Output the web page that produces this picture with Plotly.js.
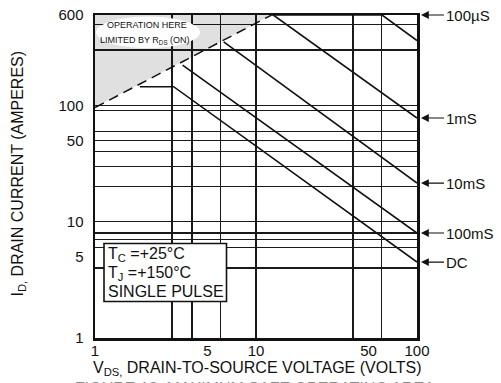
<!DOCTYPE html>
<html>
<head>
<meta charset="utf-8">
<script src="https://cdn.plot.ly/plotly-3.0.1.min.js"></script>
<style>html,body{margin:0;padding:0;background:#fff;}</style>
</head>
<body>
<div id="chart" style="width:501px;height:383px;"></div>
<script>
// Maximum safe operating area: drain current (A) against drain-source voltage (V), log-log
const pulseNames = ['100µS', '1mS', '10mS', '100mS', 'DC'];

const vds100us = [12.5, 60.7, 100];
const id100us  = [600, 600, 362];
const vds1ms   = [12.8, 100];
const id1ms    = [600, 78];
const vds10ms  = [6.3, 100];
const id10ms   = [352, 21.5];
const vds100ms = [3.5, 100];
const id100ms  = [222, 8];
const vdsDC    = [1.9, 3.08, 100];
const idDC     = [145, 145, 4.5];

// R_DS(on) limit line; the shaded region lies above it
const vdsRds = [1, 12.5];
const idRds  = [96, 600];

// Tick labels and the grid positions of the chart paper
const xTickVals = [1, 5, 10, 50, 100];
const yTickVals = [1, 5, 10, 50, 100, 600];
const xGrid = [3, 4, 6, 10, 40, 60];
const yGrid = [4, 6, 7, 8, 10, 20, 30, 40, 50, 60, 90, 100, 300, 500];

// Test conditions printed in the box
const boxLines = ['T<sub>C</sub> =+25°C', 'T<sub>J</sub> =+150°C', 'SINGLE PULSE'];

const W = 501, H = 383;
const M = {l: 95, r: 84, t: 15, b: 45, pad: 0, autoexpand: false};
const PW = W - M.l - M.r, PH = H - M.t - M.b;
const px = v => (v - M.l) / PW;
const py = v => 1 - (v - M.t) / PH;

const FONT = 'Liberation Sans, Arial, Helvetica, sans-serif';
const INK = '#111';
const yMax = 600;

const curve = (x, y) => ({
  x, y, type: 'scatter', mode: 'lines',
  line: {color: INK, width: 1.6}, hoverinfo: 'skip', showlegend: false
});

const shade = {
  x: [vdsRds[0], vdsRds[1], vdsRds[0]],
  y: [idRds[0], idRds[1], yMax],
  type: 'scatter', mode: 'lines', fill: 'toself',
  fillcolor: 'rgba(0,0,0,0.12)', line: {width: 0, color: 'rgba(0,0,0,0)'},
  hoverinfo: 'skip', showlegend: false
};

const rdsLine = {
  x: vdsRds, y: idRds, type: 'scatter', mode: 'lines',
  line: {color: INK, width: 1.5, dash: '10px,6px'},
  xaxis: 'x2', yaxis: 'y2', hoverinfo: 'skip', showlegend: false
};

const traces = [
  shade,
  curve(vds100us, id100us),
  curve(vds1ms, id1ms),
  curve(vds10ms, id10ms),
  curve(vds100ms, id100ms),
  curve(vdsDC, idDC),
  rdsLine
];

const xRange = [0, 2];
const yRange = [0, Math.log10(yMax)];

// Pulse-width labels with arrows pointing at the end of each curve
const endCurrents = [yMax, id1ms[id1ms.length - 1], id10ms[id10ms.length - 1],
                     id100ms[id100ms.length - 1], idDC[idDC.length - 1]];
const annotations = pulseNames.map((name, i) => ({
  x: Math.log10(100), y: Math.log10(endCurrents[i]), xref: 'x', yref: 'y',
  text: name, showarrow: true, ax: 27, ay: 0, xanchor: 'left', yanchor: 'middle',
  arrowhead: 2, arrowsize: 1.3, arrowwidth: 1.2, arrowcolor: INK, standoff: 4,
  font: {family: FONT, size: 15, color: INK}
}));

const paperText = (xp, yp, text, size, extra) => Object.assign({
  x: px(xp), y: py(yp), xref: 'paper', yref: 'paper',
  xanchor: 'center', yanchor: 'middle', text, showarrow: false,
  font: {family: FONT, size, color: INK}
}, extra || {});

boxLines.forEach((t, i) => annotations.push(
  paperText(106, [254, 273, 291][i], t, 16, {xanchor: 'left'})
));

annotations.push(
  paperText(147, 25, 'OPERATION HERE', 9),
  paperText(145, 40, 'LIMITED BY R<sub>DS</sub> (ON)', 9),
  paperText(17.5, 174, 'I<sub>D,</sub> DRAIN CURRENT (AMPERES)', 16, {textangle: -90}),
  paperText(257, 368, 'V<sub>DS,</sub> DRAIN-TO-SOURCE VOLTAGE (VOLTS)', 16),
  paperText(255, 378.5, 'FIGURE 12. MAXIMUM SAFE OPERATING AREA', 16,
            {yanchor: 'top', font: {family: FONT, size: 16, color: '#8a8a8a'}})
);

const shapes = [
  {type: 'circle', xref: 'paper', yref: 'paper', layer: 'above',
   x0: px(96), x1: px(200), y0: py(16.5), y1: py(48),
   fillcolor: '#fff', line: {width: 0}},
  {type: 'rect', xref: 'paper', yref: 'paper', layer: 'above',
   x0: px(104), x1: px(226.5), y0: py(243.5), y1: py(301.5),
   fillcolor: '#fff', line: {color: INK, width: 1.6}}
];

const labelAxis = {
  type: 'log', showgrid: false, zeroline: false, ticks: '',
  showline: true, mirror: true, linecolor: INK, linewidth: 2.5,
  tickfont: {family: FONT, size: 15, color: INK}
};
const gridAxis = {
  type: 'log', showgrid: true, gridcolor: '#1a1a1a', gridwidth: 1.4,
  zeroline: false, ticks: '', showticklabels: false, showline: false
};

const layout = {
  width: W, height: H, margin: M,
  paper_bgcolor: '#fff', plot_bgcolor: '#fff', showlegend: false,
  xaxis: Object.assign({}, labelAxis, {range: xRange, tickmode: 'array',
    tickvals: xTickVals, ticktext: xTickVals.map(String), ticklabelstandoff: -3}),
  yaxis: Object.assign({}, labelAxis, {range: yRange, tickmode: 'array',
    tickvals: yTickVals, ticktext: yTickVals.map(String), ticklabelstandoff: 6}),
  xaxis2: Object.assign({}, gridAxis, {range: xRange, overlaying: 'x', anchor: 'y2',
    tickmode: 'array', tickvals: xGrid}),
  yaxis2: Object.assign({}, gridAxis, {range: yRange, overlaying: 'y', anchor: 'x2',
    tickmode: 'array', tickvals: yGrid}),
  annotations, shapes
};

Plotly.newPlot('chart', traces, layout, {staticPlot: true, displayModeBar: false});
</script>
</body>
</html>
